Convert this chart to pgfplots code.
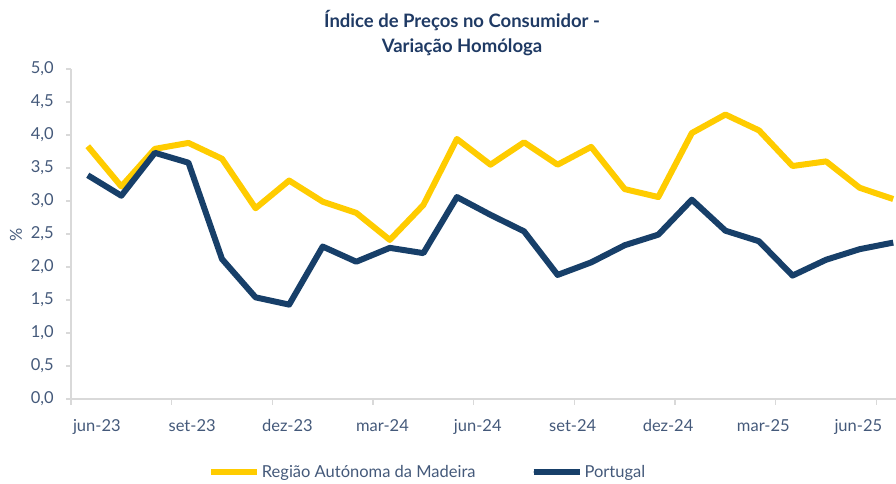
\documentclass[border=0pt]{standalone}
\usepackage{fontspec}
\setmainfont{Lato}
\usepackage{pgfplots}
\pgfplotsset{compat=1.18}
\definecolor{madeira}{HTML}{FFCC00}
\definecolor{portugal}{HTML}{173F69}
\definecolor{txt}{HTML}{44597A}
\definecolor{ttl}{HTML}{1F3A64}
\definecolor{axgray}{HTML}{D9D9D9}
\begin{document}
\begin{tikzpicture}
\begin{axis}[
  at={(71pt,85pt)}, anchor=south west,
  scale only axis, width=839pt, height=330pt,
  xmin=-0.5, xmax=24.5, ymin=0, ymax=5,
  axis lines*=left,
  axis line style={draw=axgray, line width=1.2pt, -},
  tick align=outside,
  ytick={0,0.5,1,1.5,2,2.5,3,3.5,4,4.5,5},
  /pgf/number format/.cd, fixed, fixed zerofill, precision=1, use comma, assume math mode=true, /pgfplots/.cd,
  major tick length=5pt,
  every major y tick/.append style={draw=axgray, line width=1.2pt},
  every major x tick/.append style={draw=none},
  minor xtick={-0.5,2.5,5.5,8.5,11.5,14.5,17.5,20.5,23.5},
  minor tick length=6pt,
  every minor x tick/.append style={draw=axgray, line width=1.2pt},
  xtick={0.27,3.11,5.95,8.78,11.62,14.45,17.29,20.13,22.96},
  xticklabels={jun-23,set-23,dez-23,mar-24,jun-24,set-24,dez-24,mar-25,jun-25},
  ticklabel style={font=\fontsize{16.5}{20}\selectfont, text=txt},
  yticklabel style={anchor=east, inner sep=0pt, xshift=-12pt},
  xticklabel style={anchor=north, inner sep=0pt, yshift=-15pt},
  legend columns=2,
  legend style={at={(0.425,-0.221)}, anchor=center, draw=none, fill=none,
    font=\fontsize{16.5}{20}\selectfont, text=txt,
    /tikz/every even column/.append style={column sep=53pt}},
  legend image code/.code={\draw[#1, line width=6pt, line cap=round] (3pt,0pt) -- (37pt,0pt); \path (0pt,0pt) -- (46pt,0pt);},
  legend cell align=left,
  clip=false,
]
\addplot[madeira, line width=6pt, line join=round] coordinates {
(0,3.83)(1,3.22)(2,3.79)(3,3.88)(4,3.64)(5,2.89)(6,3.31)(7,2.99)(8,2.82)(9,2.41)
(10,2.94)(11,3.94)(12,3.55)(13,3.89)(14,3.55)(15,3.82)(16,3.18)(17,3.06)(18,4.03)
(19,4.31)(20,4.07)(21,3.53)(22,3.60)(23,3.20)(24,3.03)};
\addlegendentry{Região Autónoma da Madeira}
\addplot[portugal, line width=6pt, line join=round] coordinates {
(0,3.39)(1,3.08)(2,3.73)(3,3.58)(4,2.12)(5,1.54)(6,1.43)(7,2.31)(8,2.08)(9,2.29)
(10,2.21)(11,3.06)(12,2.79)(13,2.54)(14,1.88)(15,2.07)(16,2.33)(17,2.49)(18,3.02)
(19,2.55)(20,2.39)(21,1.87)(22,2.11)(23,2.27)(24,2.37)};
\addlegendentry{Portugal}
\end{axis}
\node[anchor=base, font=\bfseries\fontsize{18.5}{22}\selectfont, text=ttl, inner sep=0pt] at (462pt,456pt) {Índice de Preços no Consumidor -};
\node[anchor=base, font=\bfseries\fontsize{18.5}{22}\selectfont, text=ttl, inner sep=0pt] at (462pt,431pt) {Variação Homóloga};
\node[rotate=90, font=\fontsize{16.5}{20}\selectfont, text=txt, inner sep=0pt] at (16pt,249pt) {\%};
\pgfresetboundingbox
\path[use as bounding box] (0pt,0pt) rectangle (896pt,484pt);
\end{tikzpicture}
\end{document}
